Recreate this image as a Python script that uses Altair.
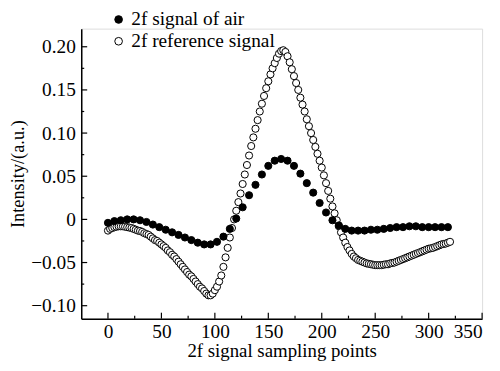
import altair as alt
import pandas as pd

# Reference signal (open circles), sampled every 2 points from 0 to 320
ref_x = list(range(0, 321, 2))
ref_y = [
    -0.013, -0.011, -0.010, -0.009, -0.0085, -0.008, -0.008, -0.008, -0.0085, -0.009,   # 0-18
    -0.0095, -0.010, -0.011, -0.012, -0.013, -0.0135, -0.0145, -0.016, -0.017, -0.018,  # 20-38
    -0.020, -0.022, -0.024, -0.025, -0.027, -0.029, -0.031, -0.033, -0.036, -0.038,     # 40-58
    -0.041, -0.043, -0.046, -0.049, -0.052, -0.055, -0.058, -0.061, -0.064, -0.066,     # 60-78
    -0.069, -0.072, -0.075, -0.078, -0.080, -0.083, -0.086, -0.088, -0.088, -0.086,     # 80-98
    -0.082, -0.078, -0.072, -0.065, -0.055, -0.044, -0.033, -0.021, -0.010, 0.000,      # 100-118
    0.010, 0.020, 0.030, 0.041, 0.052, 0.063, 0.074, 0.085, 0.095, 0.105,               # 120-138
    0.115, 0.125, 0.134, 0.143, 0.152, 0.160, 0.168, 0.175, 0.181, 0.187,               # 140-158
    0.192, 0.195, 0.196, 0.194, 0.189, 0.182, 0.174, 0.166, 0.158, 0.150,               # 160-178
    0.141, 0.133, 0.125, 0.116, 0.108, 0.100, 0.092, 0.084, 0.076, 0.068,               # 180-198
    0.060, 0.051, 0.042, 0.033, 0.024, 0.015, 0.007, -0.001, -0.008, -0.015,            # 200-218
    -0.021, -0.027, -0.032, -0.036, -0.040, -0.043, -0.045, -0.047, -0.048, -0.049,     # 220-238
    -0.050, -0.051, -0.0515, -0.052, -0.0525, -0.053, -0.053, -0.053, -0.053, -0.0525,  # 240-258
    -0.052, -0.052, -0.051, -0.0505, -0.050, -0.049, -0.048, -0.047, -0.046, -0.045,    # 260-278
    -0.044, -0.043, -0.042, -0.041, -0.040, -0.039, -0.038, -0.037, -0.036, -0.035,     # 280-298
    -0.034, -0.0335, -0.033, -0.032, -0.031, -0.030, -0.029, -0.0285, -0.028, -0.027,   # 300-318
    -0.026,                                                                              # 320
]

# Signal of air (filled circles), sampled every 6 points from 0 to 318
air_x = list(range(0, 319, 6))
air_y = [
    -0.004, -0.002, -0.001, 0.000, 0.000, -0.001, -0.003, -0.006, -0.009, -0.012,   # 0-54
    -0.015, -0.018, -0.021, -0.024, -0.027, -0.029, -0.029, -0.026, -0.020, -0.011, # 60-114
    0.001, 0.014, 0.028, 0.040, 0.052, 0.062, 0.068, 0.070, 0.068, 0.062,           # 120-174
    0.053, 0.042, 0.031, 0.019, 0.008, -0.001, -0.007, -0.011, -0.013, -0.013,      # 180-234
    -0.013, -0.012, -0.012, -0.011, -0.010, -0.009, -0.009, -0.008, -0.008, -0.009, # 240-294
    -0.009, -0.009, -0.009, -0.009,                                                  # 300-318
]

series_names = ["2f signal of air", "2f reference signal"]
x_ticks_major = [0, 50, 100, 150, 200, 250, 300, 350]
x_ticks_minor = [25, 75, 125, 175, 225, 275, 325]
y_ticks_major = [-0.10, -0.05, 0.0, 0.05, 0.10, 0.15, 0.20]
y_ticks_minor = [-0.075, -0.025, 0.025, 0.075, 0.125, 0.175]

df = pd.concat([
    pd.DataFrame({"x": ref_x, "y": ref_y, "series": series_names[1]}),
    pd.DataFrame({"x": air_x, "y": air_y, "series": series_names[0]}),
], ignore_index=True)

FONT = "Liberation Serif"
W, H = 405, 293
xscale = alt.Scale(domain=[-25, 350], nice=False, zero=False)
yscale = alt.Scale(domain=[-0.115, 0.221], nice=False, zero=False)

xaxis = alt.Axis(
    values=x_ticks_major, title="2f signal sampling points", ticks=False, grid=False,
    labelFont=FONT, labelFontSize=19.5, labelColor="black", labelPadding=4,
    titleFont=FONT, titleFontSize=19, titleFontWeight="normal", titleColor="black", titlePadding=1,
    domainColor="black", domainWidth=1.5, labelFlush=True)
yaxis = alt.Axis(
    values=y_ticks_major, title="Intensity/(a.u.)", ticks=False, grid=False,
    labelExpr="datum.value == 0 ? '0' : replace(format(datum.value, '.2f'), '-', '\u2212')",
    labelFont=FONT, labelFontSize=19.5, labelColor="black", labelPadding=6,
    titleFont=FONT, titleFontSize=18.5, titleFontWeight="normal", titleColor="black", titlePadding=3,
    domainColor="black", domainWidth=1.5, labelFlush=False)

points = alt.Chart(df).mark_circle(size=52, opacity=1, stroke="black", strokeWidth=1).encode(
    x=alt.X("x:Q", scale=xscale, axis=xaxis),
    y=alt.Y("y:Q", scale=yscale, axis=yaxis),
    fill=alt.Fill("series:N", scale=alt.Scale(domain=series_names, range=["black", "white"]),
                  legend=alt.Legend(orient="none", legendX=28, legendY=-19, title=None,
                                    labelFont=FONT, labelFontSize=19.5, labelColor="black", labelLimit=400,
                                    symbolType="circle", symbolSize=60, symbolStrokeColor="black",
                                    symbolStrokeWidth=1, labelOffset=3, rowPadding=1, padding=0)),
    order=alt.Order("series:N", sort="ascending"),
)

xt_major = alt.Chart(pd.DataFrame({"t": x_ticks_major})).mark_rule(color="black", strokeWidth=1.2).encode(
    x=alt.X("t:Q", scale=xscale, axis=xaxis), y=alt.value(H), y2=alt.value(H - 6))
xt_minor = alt.Chart(pd.DataFrame({"t": x_ticks_minor})).mark_rule(color="black", strokeWidth=1.2).encode(
    x=alt.X("t:Q", scale=xscale, axis=xaxis), y=alt.value(H), y2=alt.value(H - 3))
yt_major = alt.Chart(pd.DataFrame({"t": y_ticks_major})).mark_rule(color="black", strokeWidth=1.2).encode(
    y=alt.Y("t:Q", scale=yscale, axis=yaxis), x=alt.value(0), x2=alt.value(6))
yt_minor = alt.Chart(pd.DataFrame({"t": y_ticks_minor})).mark_rule(color="black", strokeWidth=1.2).encode(
    y=alt.Y("t:Q", scale=yscale, axis=yaxis), x=alt.value(0), x2=alt.value(3))

chart = alt.layer(points, xt_major, xt_minor, yt_major, yt_minor).properties(
    width=W, height=H,
    autosize=alt.AutoSizeParams(type="none"),
    padding={"left": 74, "top": 19, "right": 10, "bottom": 46},
).configure_view(stroke=None).configure(background="white")

chart.save("out.html", embed_options={"renderer": "svg", "actions": False})
